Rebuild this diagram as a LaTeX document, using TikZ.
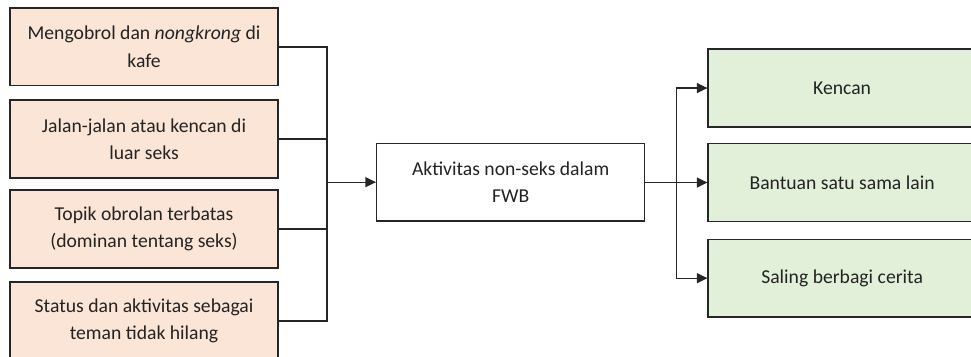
\documentclass[tikz,border=0pt]{standalone}
\usepackage{fontspec}
\setmainfont{Carlito}
\usetikzlibrary{arrows.meta, positioning}
\definecolor{fwbpeach}{RGB}{251, 229, 214}
\definecolor{fwbgreen}{RGB}{226, 240, 217}
\definecolor{fwbline}{RGB}{38, 38, 38}
\definecolor{fwbtext}{RGB}{35, 35, 35}
\tikzset{
  box/.style={rectangle, draw=fwbline, line width=1pt, fill=#1,
              minimum width=7.09cm, minimum height=2.06cm, align=center,
              text=fwbtext, font=\fontsize{14.8}{20.8}\selectfont},
  box/.default=white,
  link/.style={line width=1pt, color=fwbline},
  arrow/.style={-{Triangle[length=8pt, width=7.5pt]}, line width=1pt, color=fwbline},
}

\begin{document}
\begin{tikzpicture}
        \path[use as bounding box, clip] (0,0) rectangle (25.69,9.42);

        % Left boxes
        \node[box=fwbpeach] (l1) at (3.81, 8.18) {Mengobrol dan \textit{nongkrong} di\\kafe};
        \node[box=fwbpeach] (l2) at (3.81, 5.74) {Jalan-jalan atau kencan di\\luar seks};
        \node[box=fwbpeach] (l3) at (3.81, 3.36) {Topik obrolan terbatas\\(dominan tentang seks)};
        \node[box=fwbpeach] (l4) at (3.81, 0.93) {Status dan aktivitas sebagai\\teman tidak hilang};

        % Middle box
        \node[box] (mid) at (13.51, 4.60) {Aktivitas non-seks dalam\\FWB};

        % Right boxes
        \node[box=fwbgreen] (r1) at (22.28, 7.09) {Kencan};
        \node[box=fwbgreen] (r2) at (22.28, 4.59) {Bantuan satu sama lain};
        \node[box=fwbgreen] (r3) at (22.28, 2.06) {Saling berbagi cerita};

        % Bus lines
        \coordinate (lbus) at (8.65, 4.60);
        \coordinate (rbus) at (17.89, 4.60);
        \foreach \n in {l1, l2, l3, l4}
          \draw[link] (\n.east) -| (lbus);
        \draw[arrow] (lbus) -- (mid.west);
        \draw[link] (mid.east) -- (rbus);
        \foreach \n in {r1, r2, r3}
          \draw[arrow] (rbus) |- (\n.west);
      \end{tikzpicture}
\end{document}
